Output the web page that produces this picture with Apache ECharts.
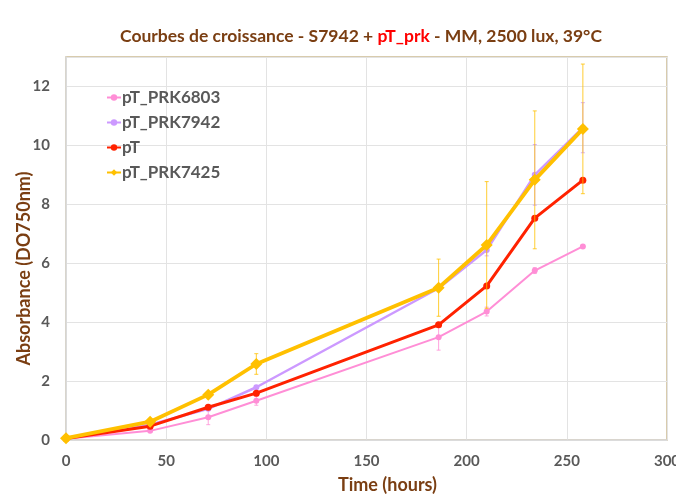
<!DOCTYPE html>
<html>
<head>
<meta charset="utf-8">
<script src="https://cdn.jsdelivr.net/npm/echarts@6/dist/echarts.min.js"></script>
<style>
  html, body { margin: 0; padding: 0; background: #ffffff; }
  #chart { width: 676px; height: 494px; }
</style>
</head>
<body>
<div id="chart"></div>
<script>
// Sampling times (hours)
const hours = [0, 42, 71, 95, 186, 210, 234, 258];

// Absorbance at 750 nm for each strain
const prk6803 = [0.04, 0.31, 0.77, 1.33, 3.49, 4.36, 5.75, 6.57];
const prk7942 = [0.05, 0.52, 1.06, 1.79, 5.15, 6.45, 9.00, 10.60];
const pT      = [0.05, 0.47, 1.11, 1.59, 3.91, 5.23, 7.53, 8.82];
const prk7425 = [0.06, 0.62, 1.54, 2.58, 5.17, 6.62, 8.83, 10.56];

// Standard deviations
const err6803 = [0, 0.03, 0.25, 0.15, 0.44, 0.15, 0.10, 0.05];
const err7942 = [0, 0, 0, 0, 0, 0.20, 1.03, 0.85];
const errPT   = [0, 0, 0, 0, 0, 0, 0, 0];
const err7425 = [0, 0.05, 0.08, 0.35, 0.97, 2.15, 2.34, 2.20];

const yTicks = [0, 2, 4, 6, 8, 10, 12];
const xTicks = [0, 50, 100, 150, 200, 250, 300];

const strains = [
  { name: 'pT_PRK6803', values: prk6803, errors: err6803, color: '#FF8ED6', width: 2,   symbol: 'circle',  size: 6 },
  { name: 'pT_PRK7942', values: prk7942, errors: err7942, color: '#CC99FF', width: 2.5, symbol: 'circle',  size: 6 },
  { name: 'pT',         values: pT,      errors: errPT,   color: '#FF2200', width: 3,   symbol: 'circle',  size: 7 },
  { name: 'pT_PRK7425', values: prk7425, errors: err7425, color: '#FFC000', width: 3.8, symbol: 'diamond', size: 12 }
];

const FONT = 'Lato';

function errorBarSeries(s, z) {
  const data = hours.map((h, i) => [h, s.values[i] - s.errors[i], s.values[i] + s.errors[i]])
                    .filter((d, i) => s.errors[i] > 0);
  return {
    type: 'custom',
    name: s.name + ' err',
    z: z,
    silent: true,
    data: data,
    encode: { x: 0, y: [1, 2] },
    renderItem: function (params, api) {
      const x = api.value(0);
      const lo = api.coord([x, api.value(1)]);
      const hi = api.coord([x, api.value(2)]);
      const cap = 2;
      const st = { stroke: s.color, lineWidth: 1, opacity: 0.8 };
      return {
        type: 'group',
        children: [
          { type: 'line', shape: { x1: lo[0], y1: lo[1], x2: hi[0], y2: hi[1] }, style: st },
          { type: 'line', shape: { x1: lo[0] - cap, y1: lo[1], x2: lo[0] + cap, y2: lo[1] }, style: st },
          { type: 'line', shape: { x1: hi[0] - cap, y1: hi[1], x2: hi[0] + cap, y2: hi[1] }, style: st }
        ]
      };
    }
  };
}

const series = [];
strains.forEach((s, k) => {
  series.push(errorBarSeries(s, 2 + k * 2));
  series.push({
    type: 'line',
    name: s.name,
    z: 3 + k * 2,
    data: hours.map((h, i) => [h, s.values[i]]),
    symbol: s.symbol,
    symbolSize: s.size,
    showAllSymbol: true,
    lineStyle: { color: s.color, width: s.width },
    itemStyle: { color: s.color },
    emphasis: { disabled: true }
  });
});

const chart = echarts.init(document.getElementById('chart'), null, { renderer: 'canvas' });
chart.setOption({
  animation: false,
  backgroundColor: '#ffffff',
  title: {
    text: '{a|Courbes de croissance - S7942 + }{b|pT_prk}{a| - MM, 2500 lux, 39°C}',
    left: 115,
    top: 22,
    textStyle: {
      rich: {
        a: { fontFamily: FONT, fontWeight: 'bold', fontSize: 17.5, color: '#7A3E12' },
        b: { fontFamily: FONT, fontWeight: 'bold', fontSize: 17.5, color: '#FF0000' }
      }
    }
  },
  legend: {
    orient: 'vertical',
    left: 101,
    top: 84,
    itemGap: 8,
    itemWidth: 14,
    itemHeight: 8,
    data: strains.map(s => s.name),
    textStyle: { fontFamily: FONT, fontWeight: 'bold', fontSize: 17, color: '#595959', padding: [0, 0, 0, -4] }
  },
  grid: {
    left: 66, right: 9, top: 57, bottom: 54,
    outerBoundsMode: 'none',
    containLabel: false,
    show: true,
    borderColor: '#CBBB93',
    borderWidth: 1.5,
    backgroundColor: '#ffffff'
  },
  xAxis: {
    type: 'value',
    min: xTicks[0],
    max: xTicks[xTicks.length - 1],
    interval: 50,
    name: 'Time (hours)',
    nameLocation: 'middle',
    nameGap: 36,
    nameTextStyle: { fontFamily: FONT, fontWeight: 'bold', fontSize: 18, color: '#7A3E12', padding: [0, 0, 0, 42] },
    axisLine: { show: true, lineStyle: { color: '#D9D9D9', width: 1.5 } },
    axisTick: { show: false },
    axisLabel: { fontFamily: FONT, fontWeight: 'bold', fontSize: 15, color: '#595959', margin: 14 },
    splitLine: { show: true, lineStyle: { color: '#E3E3E3', width: 1 } }
  },
  yAxis: {
    type: 'value',
    min: yTicks[0],
    max: 13,
    interval: 2,
    name: 'Absorbance (DO750nm)',
    nameLocation: 'middle',
    nameGap: 33,
    nameMoveOverlap: false,
    nameTextStyle: { fontFamily: FONT, fontWeight: 'bold', fontSize: 18, color: '#7A3E12', padding: [0, 40, 0, 0] },
    axisLine: { show: true, lineStyle: { color: '#D9D9D9', width: 1.5 } },
    axisTick: { show: false },
    axisLabel: { fontFamily: FONT, fontWeight: 'bold', fontSize: 15, color: '#595959', margin: 16, showMaxLabel: false },
    splitLine: { show: true, lineStyle: { color: '#E3E3E3', width: 1 } }
  },
  series: series
});
</script>
</body>
</html>
